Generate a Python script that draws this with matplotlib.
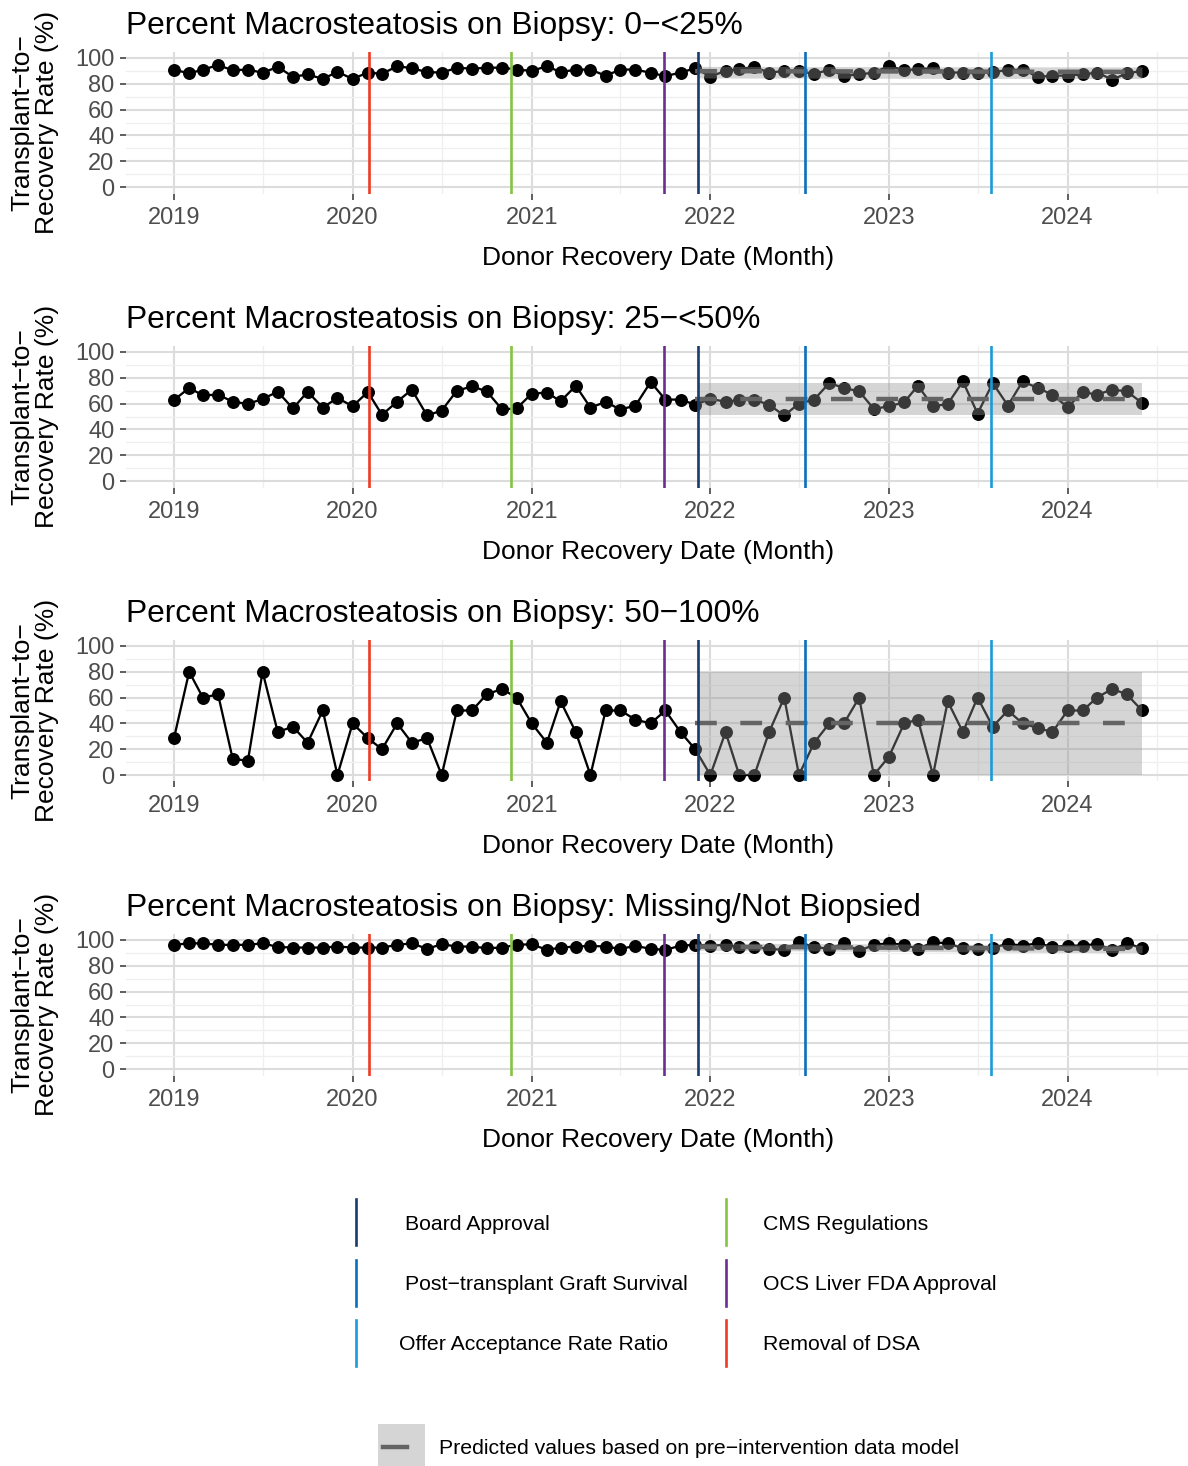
import matplotlib
matplotlib.use("Agg")
import matplotlib.pyplot as plt
import matplotlib.dates as mdates
from matplotlib.patches import Rectangle
import pandas as pd

plt.rcParams['font.family'] = ['Liberation Sans', 'DejaVu Sans']

# monthly donor recovery dates, Jan 2019 - Jun 2024
months = pd.date_range("2019-01-01", "2024-06-01", freq="MS")

rate_0_25 = [91.0, 88.0, 91.0, 94.4, 90.5, 91.0, 88.5, 93.1, 85.4, 87.2, 83.8, 89.2,
             83.8, 88.7, 87.7, 93.6, 92.1, 89.0, 88.7, 92.3, 91.8, 92.3, 92.6, 91.0,
             90.0, 93.6, 89.0, 91.0, 91.0, 86.2, 91.0, 91.0, 88.5, 85.9, 88.7, 92.0,
             85.6, 90.0, 91.3, 93.1, 88.5, 90.0, 90.0, 87.4, 91.0, 86.2, 87.2, 88.7,
             93.8, 90.5, 91.3, 92.1, 88.7, 88.7, 88.0, 89.2, 90.5, 91.0, 85.4, 86.2,
             86.4, 87.2, 88.7, 83.3, 88.0, 90.0]
rate_25_50 = [62.8, 72.1, 66.4, 66.9, 61.5, 59.7, 63.6, 69.2, 56.2, 69.2, 56.9, 64.4,
              57.9, 69.0, 51.3, 61.5, 70.8, 50.8, 54.6, 70.0, 73.3, 69.5, 55.6, 56.2,
              67.7, 68.5, 61.8, 73.8, 56.9, 61.3, 55.4, 58.5, 76.7, 63.1, 63.1, 59.2,
              63.6, 61.5, 62.6, 63.1, 59.0, 50.8, 60.0, 63.1, 75.9, 72.1, 69.5, 55.9,
              57.9, 61.0, 73.8, 57.9, 59.7, 77.2, 52.3, 75.9, 58.5, 77.2, 72.1, 66.9,
              57.2, 69.0, 66.9, 70.8, 69.5, 60.5]
rate_50_100 = [28.6, 80.0, 60.0, 62.5, 12.5, 11.1, 80.0, 33.3, 37.5, 25.0, 50.0, 0.0,
               40.0, 28.6, 20.0, 40.0, 25.0, 28.6, 0.0, 50.0, 50.0, 62.5, 66.7, 60.0,
               40.0, 25.0, 57.1, 33.3, 0.0, 50.0, 50.0, 42.9, 40.0, 50.0, 33.3, 20.0,
               0.0, 33.3, 0.0, 0.0, 33.3, 60.0, 0.0, 25.0, 40.0, 40.0, 60.0, 0.0,
               14.3, 40.0, 42.9, 0.0, 57.1, 33.3, 60.0, 37.5, 50.0, 40.0, 36.4, 33.3,
               50.0, 50.0, 60.0, 66.7, 62.5, 50.0]
rate_missing = [96.2, 97.4, 97.4, 96.2, 96.2, 96.2, 97.4, 94.6, 94.1, 94.1, 94.1, 94.9,
                94.1, 94.1, 94.1, 96.2, 97.4, 93.1, 96.7, 94.9, 94.9, 93.6, 94.1, 96.2,
                96.7, 92.3, 94.1, 94.9, 95.4, 94.9, 93.1, 95.4, 93.1, 92.3, 95.6, 96.2,
                95.6, 96.2, 94.6, 94.6, 93.1, 92.3, 98.2, 94.6, 93.1, 97.4, 91.5, 96.2,
                97.4, 96.2, 93.1, 98.2, 97.4, 93.6, 93.1, 94.1, 96.9, 95.6, 97.4, 94.6,
                95.6, 95.6, 96.9, 92.3, 97.4, 93.6]

panel_titles = ["Percent Macrosteatosis on Biopsy: 0\u2212<25%",
                "Percent Macrosteatosis on Biopsy: 25\u2212<50%",
                "Percent Macrosteatosis on Biopsy: 50\u2212100%",
                "Percent Macrosteatosis on Biopsy: Missing/Not Biopsied"]
panel_rates = [rate_0_25, rate_25_50, rate_50_100, rate_missing]

# predicted values from pre-intervention model (start, end of post period)
pred_fit = [[89.8, 89.2], [63.3, 63.3], [40.0, 40.0], [94.8, 93.0]]
pred_lo = [[84.5, 84.0], [50.8, 50.8], [0.0, 0.0], [92.0, 90.0]]
pred_hi = [[93.5, 93.0], [75.9, 75.9], [79.5, 79.5], [97.6, 96.0]]
pred_from = pd.Timestamp("2021-12-01")

# interventions
events = ["Board Approval", "Post\u2212transplant Graft Survival",
          "Offer Acceptance Rate Ratio", "CMS Regulations",
          "OCS Liver FDA Approval", "Removal of DSA"]
event_dates = pd.to_datetime(["2021-12-06", "2022-07-13", "2023-07-28",
                              "2020-11-19", "2021-09-28", "2020-02-03"])
event_colors = ["#1a3b6b", "#0a6fbd", "#1b9bd8", "#84c441", "#6e2d91", "#ee3a24"]

W, H = 1188, 1466
fig = plt.figure(figsize=(W / 100, H / 100), dpi=100)

for k in range(4):
    top = 51.5 + 294 * k
    ax = fig.add_axes([125.6 / W, 1 - (top + 142) / H, 1064.8 / W, 142 / H])
    rate = panel_rates[k]

    ax.plot(months, rate, color="black", lw=1.65, marker="o", ms=8.3, zorder=3)

    # prediction ribbon (drawn over the points, like the original) + dashed line
    ax.fill_between([event_dates[0], months[-1]], pred_lo[k], pred_hi[k],
                    color="#959595", alpha=0.39, lw=0, zorder=4)
    ax.plot([pred_from, months[-1]], pred_fit[k], color="#646464", lw=3.2,
            linestyle=(0, (4.9, 5.3)), zorder=5)

    for d, c in zip(event_dates, event_colors):
        ax.axvline(d, color=c, lw=1.9, zorder=6)

    ax.set_ylim(-5, 105)
    ax.margins(x=0.05)
    ax.set_yticks(range(0, 101, 20))
    ax.set_yticks(range(10, 100, 20), minor=True)
    ax.xaxis.set_major_locator(mdates.YearLocator())
    ax.xaxis.set_major_formatter(mdates.DateFormatter("%Y"))
    ax.xaxis.set_minor_locator(mdates.MonthLocator(bymonth=7))

    ax.set_axisbelow(True)
    ax.grid(which="major", color="#dcdcdc", lw=1.5)
    ax.grid(which="minor", color="#efefef", lw=0.9)
    for s in ax.spines.values():
        s.set_visible(False)
    ax.tick_params(which="major", length=4, width=1.1, color="#333333",
                   labelsize=17, labelcolor="#4d4d4d")
    ax.tick_params(axis="x", which="major", pad=5.8)
    ax.tick_params(axis="y", which="major", pad=4)
    ax.tick_params(which="minor", length=0)

    ax.set_title(panel_titles[k], loc="left", fontsize=22.9, pad=12.5)
    ax.set_xlabel("Donor Recovery Date (Month)", fontsize=19, labelpad=12)
    ax.set_ylabel("Transplant\u2212to\u2212\nRecovery Rate (%)", fontsize=19,
                  va="center", ha="center", multialignment="center", linespacing=1.05)
    ax.yaxis.set_label_coords((35 - 125.6) / 1064.8, 0.5)

# legends, drawn in pixel coordinates
lax = fig.add_axes([0, 0, 1, 1])
lax.set_xlim(0, W)
lax.set_ylim(H, 0)
lax.axis("off")

row_y = [1222, 1283, 1343]
col_key_x = [356, 726]
col_text_x = [[405, 405, 399], [763, 763, 763]]
for i, (name, c) in enumerate(zip(events, event_colors)):
    col, row = i // 3, i % 3
    y = row_y[row]
    lax.plot([col_key_x[col], col_key_x[col]], [y - 23, y + 23], color=c, lw=1.9)
    lax.text(col_text_x[col][row], y, name, fontsize=15.3, va="center_baseline", ha="left")

lax.add_patch(Rectangle((378, 1424), 47, 46, color="#d5d5d5", lw=0))
lax.plot([383, 407], [1447, 1447], color="#646464", lw=3.2)
lax.text(439, 1447, "Predicted values based on pre\u2212intervention data model",
         fontsize=15.3, va="center_baseline", ha="left")

fig.savefig("out.png", dpi=100)
